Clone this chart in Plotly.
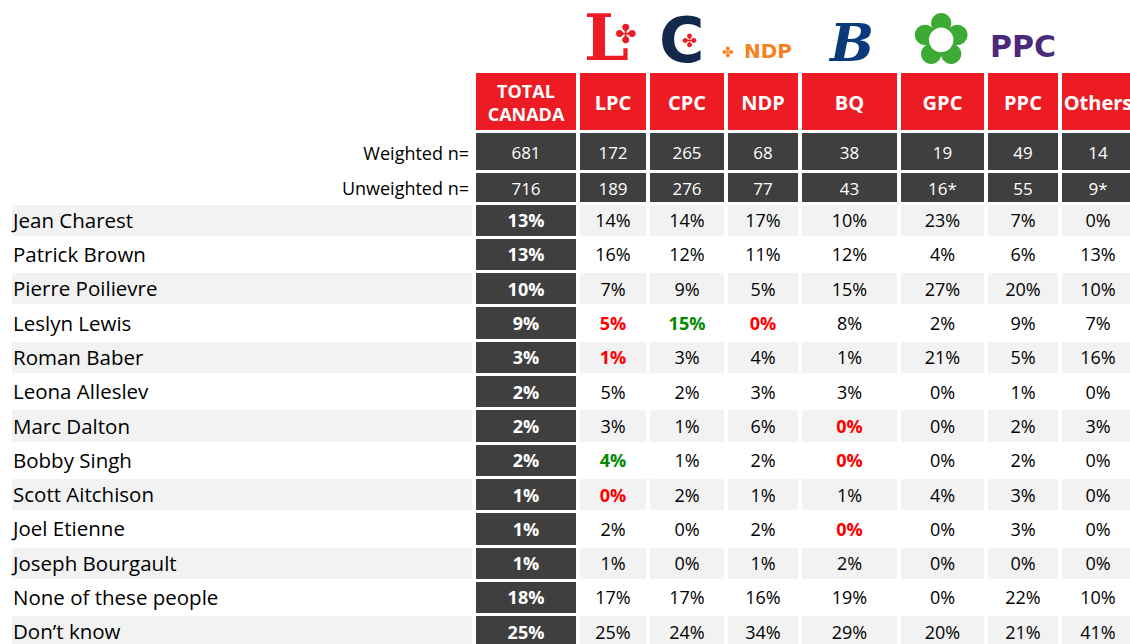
import plotly.graph_objects as go

# Dados da tabela
parties = ["TOTAL<br>CANADA", "LPC", "CPC", "NDP", "BQ", "GPC", "PPC", "Others"]
weighted_n = ["681", "172", "265", "68", "38", "19", "49", "14"]
unweighted_n = ["716", "189", "276", "77", "43", "16*", "55", "9*"]

candidates = ["Jean Charest", "Patrick Brown", "Pierre Poilievre", "Leslyn Lewis",
              "Roman Baber", "Leona Alleslev", "Marc Dalton", "Bobby Singh",
              "Scott Aitchison", "Joel Etienne", "Joseph Bourgault",
              "None of these people", "Don’t know"]
total = [13, 13, 10, 9, 3, 2, 2, 2, 1, 1, 1, 18, 25]
lpc = [14, 16, 7, 5, 1, 5, 3, 4, 0, 2, 1, 17, 25]
cpc = [14, 12, 9, 15, 3, 2, 1, 1, 2, 0, 0, 17, 24]
ndp = [17, 11, 5, 0, 4, 3, 6, 2, 1, 2, 1, 16, 34]
bq = [10, 12, 15, 8, 1, 3, 0, 0, 1, 0, 2, 19, 29]
gpc = [23, 4, 27, 2, 21, 0, 0, 0, 4, 0, 0, 0, 20]
ppc = [7, 6, 20, 9, 5, 1, 2, 2, 3, 3, 0, 22, 21]
others = [0, 13, 10, 7, 16, 0, 3, 0, 0, 0, 0, 10, 41]

# células destacadas (linha, coluna do partido)
low_cells = [(3, 1), (3, 3), (4, 1), (6, 4), (7, 4), (8, 1), (9, 4)]
high_cells = [(3, 2), (7, 1)]

RED = "#ED1C24"
DARK = "#3F3F3F"
GRAY = "#F2F2F2"
FONT = "Open Sans"

W, H = 1130, 644

# Geometria (pixels)
col_widths = [464, 104, 70, 78, 74, 99, 87, 74, 76]
x_start = 10
x_edges = [x_start]
for w in col_widths:
    x_edges.append(x_edges[-1] + w)
x_mid = [(a + b) / 2 for a, b in zip(x_edges[:-1], x_edges[1:])]

head_edges = [72, 132, 172, 203.5]
row_h = 34.3
y_edges = head_edges + [head_edges[-1] + row_h * (i + 1) for i in range(len(candidates))]
y_mid = [(a + b) / 2 for a, b in zip(y_edges[:-1], y_edges[1:])]
dy = 2  # a fonte do original fica um pouco abaixo do centro

# Matriz de cores: 0 branco, 1 cinza, 2 escuro, 3 vermelho
n_cols = len(parties) + 1
z = [[0] + [3] * len(parties),
     [0] + [2] * len(parties),
     [0] + [2] * len(parties)]
for i in range(len(candidates)):
    base = 1 if i % 2 == 0 else 0
    z.append([base, 2] + [base] * (n_cols - 2))

fig = go.Figure()

fig.add_trace(go.Heatmap(
    x=x_edges, y=y_edges, z=z,
    zmin=0, zmax=3,
    colorscale=[[0, "white"], [0.25, "white"], [0.25, GRAY], [0.5, GRAY],
                [0.5, DARK], [0.75, DARK], [0.75, RED], [1, RED]],
    xgap=4, ygap=3,
    showscale=False, hoverinfo="skip",
))

# Cabeçalho
fig.add_trace(go.Scatter(
    x=x_mid[1:], y=[y_mid[0] + 3] * len(parties),
    text=[f"<b>{p}</b>" for p in parties],
    mode="text",
    textfont=dict(family=FONT, color="white",
                  size=[18] + [20] * (len(parties) - 1)),
    hoverinfo="skip",
))

# Tamanhos de amostra
for r, (lab, vals) in enumerate([("Weighted n=", weighted_n),
                                 ("Unweighted n=", unweighted_n)], start=1):
    fig.add_trace(go.Scatter(
        x=[x_edges[1] - 5], y=[y_mid[r] + 3], text=[lab], mode="text",
        textposition="middle left",
        textfont=dict(family=FONT, size=18, color="black"),
        hoverinfo="skip",
    ))
    fig.add_trace(go.Scatter(
        x=x_mid[1:], y=[y_mid[r] + 3] * len(vals), text=vals, mode="text",
        textfont=dict(family=FONT, size=17, color="white"),
        hoverinfo="skip",
    ))

# Linhas dos candidatos
row_y = [y + dy for y in y_mid[3:]]
fig.add_trace(go.Scatter(
    x=[x_start + 3] * len(candidates), y=row_y, text=candidates,
    mode="text", textposition="middle right",
    textfont=dict(family=FONT, size=20.5, color="black"),
    hoverinfo="skip",
))
fig.add_trace(go.Scatter(
    x=[x_mid[1]] * len(total), y=row_y,
    text=[f"<b>{v}%</b>" for v in total], mode="text",
    textfont=dict(family=FONT, size=18, color="white"),
    hoverinfo="skip",
))

series = [lpc, cpc, ndp, bq, gpc, ppc, others]
for j, s in enumerate(series, start=1):
    texts, colors = [], []
    for i, v in enumerate(s):
        if (i, j) in low_cells:
            texts.append(f"<b>{v}%</b>")
            colors.append("#FF0000")
        elif (i, j) in high_cells:
            texts.append(f"<b>{v}%</b>")
            colors.append("#008A00")
        else:
            texts.append(f"{v}%")
            colors.append("black")
    fig.add_trace(go.Scatter(
        x=[x_mid[j + 1]] * len(s), y=row_y, text=texts, mode="text",
        textfont=dict(family=FONT, size=18, color=colors),
        hoverinfo="skip",
    ))

# Logos dos partidos (aproximação em texto)
logos = [
    (606, 37, "<b>L</b>", RED, 64, "DejaVu Serif"),
    (626, 34, "✤", RED, 26, "DejaVu Sans"),
    (682, 40, "<b>C</b>", "#13294B", 62, "DejaVu Sans"),
    (689, 40, "✤", RED, 18, "DejaVu Sans"),
    (728, 52, "✤", "#F58220", 14, "DejaVu Sans"),
    (768, 51, "<b>NDP</b>", "#F58220", 20, "DejaVu Sans"),
    (851, 42, "<b><i>B</i></b>", "#0B3A7A", 52, "DejaVu Serif"),
    (941, 39, "✿", "#3DAA35", 72, "DejaVu Sans"),
    (1023, 46, "<b>PPC</b>", "#4B2A7B", 30, "DejaVu Sans"),
]
for x, y, t, c, s, f in logos:
    fig.add_annotation(x=x, y=y, xref="x", yref="y",
                       text=t, showarrow=False,
                       font=dict(color=c, size=s, family=f),
                       xanchor="center", yanchor="middle")

fig.update_layout(
    width=W, height=H,
    margin=dict(l=0, r=0, t=0, b=0),
    paper_bgcolor="white",
    plot_bgcolor="white",
    showlegend=False,
    xaxis=dict(range=[0, W], visible=False, fixedrange=True),
    yaxis=dict(range=[H, 0], visible=False, fixedrange=True),
)

# tira a margem padrão do <body> para a figura ocupar a janela toda
fig.write_html("out.html", config={"displayModeBar": False},
               post_script="document.body.style.margin='0';"
                           "document.body.style.overflow='hidden';")
